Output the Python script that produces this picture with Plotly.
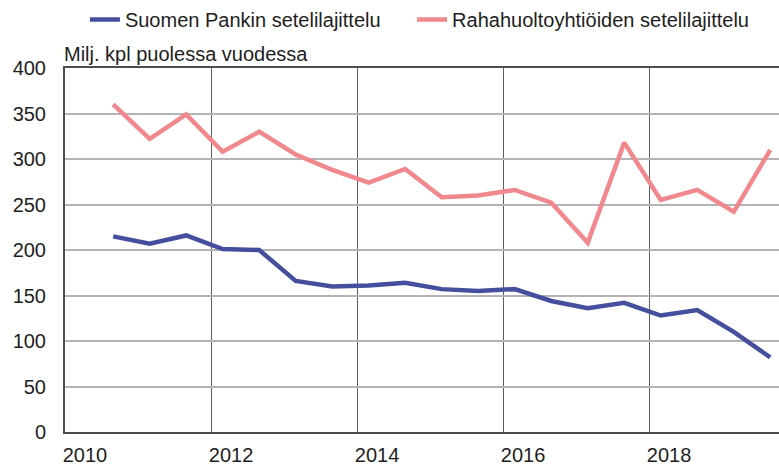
import plotly.graph_objects as go

# Half-year periods (decimal years, as placed on the time axis)
periods = [2010.66, 2011.16, 2011.66, 2012.16, 2012.66, 2013.16, 2013.66, 2014.16,
           2014.66, 2015.16, 2015.66, 2016.16, 2016.66, 2017.16, 2017.66, 2018.16,
           2018.66, 2019.16, 2019.66]

suomen_pankki = [215, 207, 216, 201, 200, 166, 160, 161, 164, 157, 155, 157,
                 144, 136, 142, 128, 134, 110, 82]
rahahuolto = [360, 322, 349, 308, 330, 305, 288, 274, 289, 258, 260, 266,
              252, 208, 318, 255, 266, 242, 310]

series_names = ["Suomen Pankin setelilajittelu", "Rahahuoltoyhtiöiden setelilajittelu"]
year_ticks = [2010, 2012, 2014, 2016, 2018]
year_labels = ["2010", "2012", "2014", "2016", "2018"]
y_ticks = [0, 50, 100, 150, 200, 250, 300, 350, 400]
unit_label = "Milj. kpl puolessa vuodessa"

BLUE = "#464f9e"
PINK = "#f0888e"
FONT = "Liberation Sans, Arial, sans-serif"
TXT = "#1e1e1e"

fig = go.Figure()
fig.add_trace(go.Scatter(x=periods, y=suomen_pankki, mode="lines", name=series_names[0],
                         line=dict(color=BLUE, width=4.5), legend="legend"))
fig.add_trace(go.Scatter(x=periods, y=rahahuolto, mode="lines", name=series_names[1],
                         line=dict(color=PINK, width=4.5), legend="legend2"))

legend_common = dict(orientation="h", xref="container", yref="container", y=1.0,
                     xanchor="left", yanchor="top", font=dict(size=20, color=TXT),
                     bgcolor="rgba(0,0,0,0)", itemwidth=30)

fig.update_layout(
    width=779, height=469,
    margin=dict(l=65, r=0, t=68, b=37),
    paper_bgcolor="white", plot_bgcolor="white",
    font=dict(family=FONT, size=20, color=TXT),
    showlegend=True,
    legend=dict(x=0.109, **legend_common),
    legend2=dict(x=0.529, **legend_common),
    xaxis=dict(range=[2010, 2019.78], tickmode="array", tickvals=year_ticks,
               ticktext=year_labels, showgrid=True, gridcolor="#5e5e5e", gridwidth=1,
               showline=True, linecolor="#4d4d4d", linewidth=2, mirror=True,
               ticks="", ticklabelshift=20, ticklabelstandoff=4,
               zeroline=False, fixedrange=True),
    yaxis=dict(range=[0, 400], tickmode="array", tickvals=y_ticks,
               showgrid=True, gridcolor="#b4b4b4", gridwidth=2,
               showline=True, linecolor="#4d4d4d", linewidth=2, mirror=False,
               ticks="", ticklabelstandoff=13, zeroline=False, fixedrange=True),
)

fig.add_annotation(text=unit_label, xref="paper", yref="paper", x=0, y=1,
                   xanchor="left", yanchor="bottom", showarrow=False, yshift=1,
                   xshift=-3, font=dict(size=20, color=TXT))

fig.write_html("out.html", config={"displayModeBar": False},
               post_script="document.body.style.margin='0';")
